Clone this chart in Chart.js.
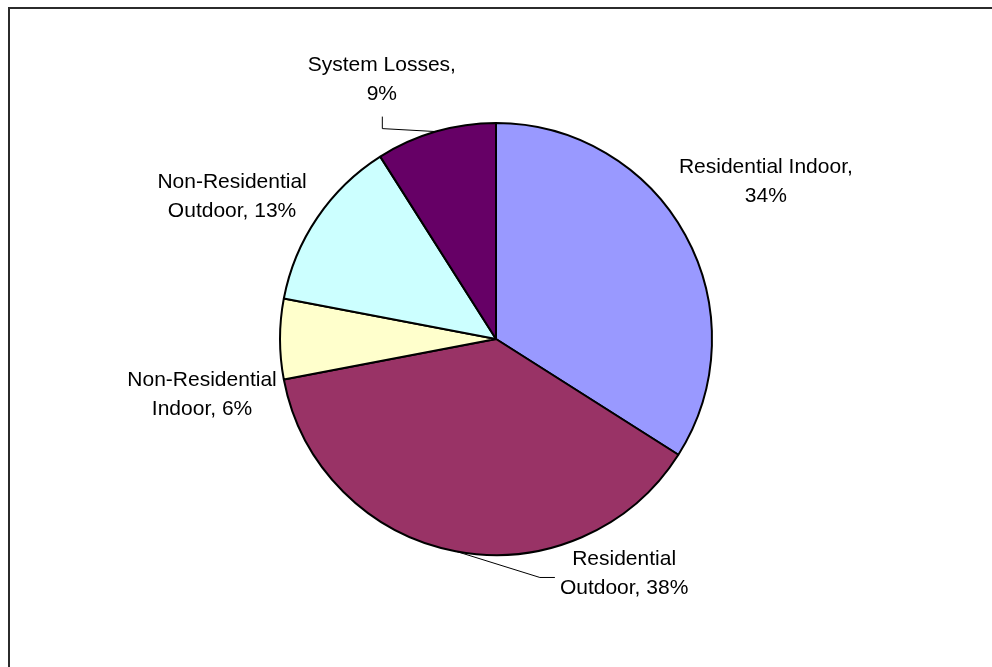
<!DOCTYPE html>
<html>
<head>
<meta charset="utf-8">
<title>Water Use by Category</title>
<script src="https://cdn.jsdelivr.net/npm/chart.js@4.4.1/dist/chart.umd.min.js"></script>
<style>
  html, body { margin: 0; padding: 0; background: #fff; }
  canvas { display: block; }
</style>
</head>
<body>
<canvas id="pie" width="992" height="667"></canvas>
<script>
// Categories and their shares (%)
const categories = ['Residential Indoor', 'Residential Outdoor', 'Non-Residential Indoor', 'Non-Residential Outdoor', 'System Losses'];
const shares = [34, 38, 6, 13, 9];
const sliceColors = ['#9999FF', '#993366', '#FFFFCC', '#CCFFFF', '#660066'];

// Label text split into two lines the way the chart shows them
const labelLines = [
    ['Residential Indoor,', '34%'],
    ['Residential', 'Outdoor, 38%'],
    ['Non-Residential', 'Indoor, 6%'],
    ['Non-Residential', 'Outdoor, 13%'],
    ['System Losses,', '9%']
];

// Where each label sits around the pie: angle from 12 o'clock (deg), distance in radii,
// and how its leader line leaves the text (null = no leader)
const labelSpots = [
    { angle: 59.7, dist: 1.447, leader: null },
    { angle: 151.4, dist: 1.239, leader: 'left' },
    { angle: 259.3, dist: 1.385, leader: null },
    { angle: 298.4, dist: 1.389, leader: null },
    { angle: 336.2, dist: 1.31, leader: 'below' }
];

// Frame round the chart area
const framePlugin = {
    id: 'frame',
    beforeDraw(chart) {
        const ctx = chart.ctx;
        ctx.save();
        ctx.strokeStyle = '#2b2b2b';
        ctx.lineWidth = 2;
        ctx.beginPath();
        ctx.moveTo(9, chart.height + 5);
        ctx.lineTo(9, 8);
        ctx.lineTo(chart.width + 5, 8);
        ctx.stroke();
        ctx.restore();
    }
};

// Category labels with leader lines
const labelPlugin = {
    id: 'sliceLabels',
    afterDatasetsDraw(chart) {
        const ctx = chart.ctx;
        const arcs = chart.getDatasetMeta(0).data;
        const lineGap = 29;
        ctx.save();
        ctx.font = '21px "Liberation Sans", Arial, sans-serif';
        ctx.fillStyle = '#000';
        ctx.textAlign = 'center';
        ctx.textBaseline = 'middle';
        ctx.strokeStyle = '#000';
        ctx.lineWidth = 1;

        arcs.forEach((arc, i) => {
            const { x, y, outerRadius, startAngle, endAngle } = arc.getProps(['x', 'y', 'outerRadius', 'startAngle', 'endAngle'], true);
            const spot = labelSpots[i];
            const a = spot.angle * Math.PI / 180;
            const cx = x + Math.sin(a) * outerRadius * spot.dist;
            const cy = y - Math.cos(a) * outerRadius * spot.dist;
            const lines = labelLines[i];

            lines.forEach((t, k) => {
                ctx.fillText(t, cx, cy + (k - (lines.length - 1) / 2) * lineGap);
            });

            if (spot.leader) {
                const mid = (startAngle + endAngle) / 2;
                const px = x + Math.cos(mid) * outerRadius;
                const py = y + Math.sin(mid) * outerRadius;
                const widest = Math.max(...lines.map(t => ctx.measureText(t).width));
                ctx.beginPath();
                if (spot.leader === 'below') {
                    const by = cy + lineGap / 2 + 22;
                    ctx.moveTo(cx + 0.5, by);
                    ctx.lineTo(cx + 0.5, by + 12);
                    ctx.lineTo(px, py);
                } else {
                    const lx = cx - widest / 2 - 5;
                    ctx.moveTo(lx, cy + 3.5);
                    ctx.lineTo(lx - 15, cy + 3.5);
                    ctx.lineTo(px, py);
                }
                ctx.stroke();
            }
        });
        ctx.restore();
    }
};

new Chart(document.getElementById('pie'), {
    type: 'pie',
    data: {
        labels: categories,
        datasets: [{
            data: shares,
            backgroundColor: sliceColors,
            borderColor: '#000',
            borderWidth: 2,
            radius: 216
        }]
    },
    options: {
        responsive: false,
        animation: false,
        layout: { padding: { top: 11, bottom: 0, left: 0, right: 0 } },
        plugins: {
            legend: { display: false },
            tooltip: { enabled: false }
        }
    },
    plugins: [framePlugin, labelPlugin]
});
</script>
</body>
</html>
